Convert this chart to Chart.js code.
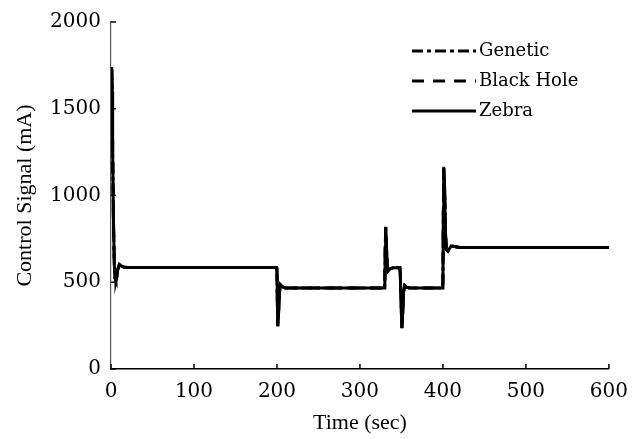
<!DOCTYPE html>
<html>
<head>
<meta charset="utf-8">
<script src="https://cdn.jsdelivr.net/npm/chart.js@4"></script>
<style>
  html, body { margin: 0; padding: 0; background: #fff; }
  #wrap { width: 639px; height: 439px; }
</style>
</head>
<body>
<div id="wrap"><canvas id="signal"></canvas></div>
<script>
const TIME = [0, 0.5, 1, 1.5, 2, 3, 4, 5, 6, 7, 8, 10, 12, 15, 20,
  199.5, 200, 200.5, 201, 202, 203, 204, 206, 210,
  329.5, 330, 330.5, 331, 332, 333, 334, 336, 340,
  348, 348.5, 349.5, 350.5, 351.5, 352.5, 354, 356, 360,
  399.5, 400, 400.5, 401, 402, 403, 404, 406, 410, 420, 600];

const GENETIC = [1450, 1620, 1720, 1590, 1240, 840, 600, 520, 512, 530, 572, 602, 596, 588, 585,
  585, 558, 378, 248, 332, 442, 486, 475, 467,
  467, 502, 705, 818, 698, 588, 566, 577, 583,
  583, 558, 398, 236, 322, 442, 481, 472, 467,
  467, 522, 905, 1155, 1045, 795, 688, 679, 709, 700, 700];

const BLACK_HOLE = [1420, 1610, 1730, 1600, 1245, 845, 598, 518, 510, 528, 570, 601, 595, 588, 585,
  585, 560, 380, 250, 330, 440, 485, 475, 467,
  467, 500, 700, 815, 700, 590, 567, 578, 583,
  583, 560, 400, 238, 320, 440, 480, 472, 467,
  467, 520, 900, 1160, 1050, 800, 690, 680, 710, 700, 700];

const ZEBRA = [1380, 1600, 1740, 1600, 1250, 850, 600, 520, 508, 530, 570, 603, 595, 588, 585,
  585, 560, 380, 245, 330, 440, 485, 475, 467,
  467, 500, 700, 820, 700, 590, 566, 578, 583,
  583, 560, 400, 235, 320, 440, 480, 472, 467,
  467, 520, 900, 1165, 1050, 800, 690, 680, 710, 700, 700];

const X_TICKS = [0, 100, 200, 300, 400, 500, 600];
const Y_TICKS = [0, 500, 1000, 1500, 2000];

const TICK_FONT = { family: 'DejaVu Serif', size: 20 };
const TITLE_FONT = { family: 'Liberation Serif', size: 22 };

function toPoints(ys){
  return TIME.map((t, i) => ({ x: t, y: ys[i] }));
}

function makeSet(label, ys, dash){
  return {
    label: label,
    data: toPoints(ys),
    borderColor: '#000',
    borderWidth: 3,
    borderDash: dash,
    pointRadius: 0,
    tension: 0,
    fill: false
  };
}

// ticks point into the plot, so they are drawn by hand
const innerTicks = {
  id: 'innerTicks',
  afterDraw(chart){
    const ctx = chart.ctx;
    const xs = chart.scales.x, ys = chart.scales.y;
    ctx.save();
    ctx.strokeStyle = '#000';
    ctx.lineWidth = 1.5;
    ctx.beginPath();
    X_TICKS.forEach(v => {
      const px = xs.getPixelForValue(v);
      ctx.moveTo(px, ys.bottom);
      ctx.lineTo(px, ys.bottom - 5);
    });
    Y_TICKS.forEach(v => {
      const py = ys.getPixelForValue(v);
      ctx.moveTo(xs.left, py);
      ctx.lineTo(xs.left + 5, py);
    });
    ctx.stroke();
    ctx.restore();
  }
};

const legendBox = {
  id: 'legendBox',
  afterDraw(chart){
    const ctx = chart.ctx;
    ctx.save();
    ctx.font = '18px "DejaVu Serif"';
    ctx.textBaseline = 'middle';
    ctx.fillStyle = '#000';
    chart.data.datasets.forEach((ds, i) => {
      const y = 51 + i * 30;
      ctx.beginPath();
      ctx.setLineDash(ds.borderDash || []);
      ctx.lineWidth = 3;
      ctx.strokeStyle = '#000';
      ctx.moveTo(412, y);
      ctx.lineTo(476, y);
      ctx.stroke();
      ctx.setLineDash([]);
      ctx.fillText(ds.label, 479, y);
    });
    ctx.restore();
  }
};

function createChart(){
  return new Chart(document.getElementById('signal'), {
    type: 'line',
    data: {
      datasets: [
        makeSet('Genetic', GENETIC, [11, 4, 4, 4]),
        makeSet('Black Hole', BLACK_HOLE, [12, 9]),
        makeSet('Zebra', ZEBRA, [])
      ]
    },
    options: {
      responsive: true,
      maintainAspectRatio: false,
      animation: false,
      layout: { padding: { left: 0, right: 30, top: 19, bottom: 0 } },
      plugins: { legend: { display: false }, tooltip: { enabled: false } },
      scales: {
        x: {
          type: 'linear',
          min: 0, max: 600,
          afterBuildTicks: s => { s.ticks = X_TICKS.map(v => ({ value: v })); },
          afterFit: s => { s.height = 70; },
          grid: { display: false, drawTicks: false },
          border: { display: true, color: '#000', width: 1.5 },
          ticks: { color: '#000', font: TICK_FONT, padding: 11, maxRotation: 0, callback: v => String(v) },
          title: { display: true, text: 'Time (sec)', color: '#000', font: TITLE_FONT, padding: { top: 0, bottom: 3 } }
        },
        y: {
          min: 0, max: 2000,
          afterBuildTicks: s => { s.ticks = Y_TICKS.map(v => ({ value: v })); },
          afterFit: s => { s.width = 111; },
          grid: { display: false, drawTicks: false },
          border: { display: true, color: '#555', width: 1.2 },
          ticks: { color: '#000', font: TICK_FONT, padding: 10, callback: v => String(v) },
          title: { display: true, text: 'Control Signal (mA)', color: '#000', font: TITLE_FONT, padding: { top: 12, bottom: 0 } }
        }
      }
    },
    plugins: [innerTicks, legendBox]
  });
}

const myChart = createChart();
</script>
</body>
</html>
